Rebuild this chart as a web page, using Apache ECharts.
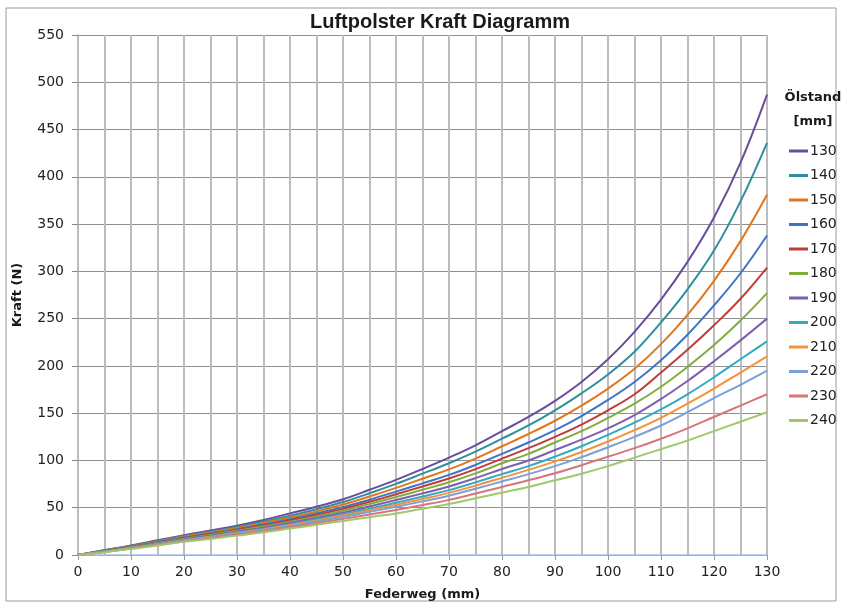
<!DOCTYPE html>
<html>
<head>
<meta charset="utf-8">
<script src="https://cdn.jsdelivr.net/npm/echarts@6/dist/echarts.min.js"></script>
<style>
  html, body { margin: 0; padding: 0; background: #fff; }
  #chart { width: 843px; height: 606px; }
</style>
</head>
<body>
<div id="chart"></div>
<script>
// Federweg (mm)
var federweg = [0, 5, 10, 15, 20, 25, 30, 35, 40, 45, 50, 55, 60, 65, 70, 75, 80, 85, 90, 95, 100, 105, 110, 115, 120, 125, 130];

// Kraft (N) pro Ölstand
var s130 = [0, 5, 10, 15.5, 21, 26, 31, 37, 44, 51, 59, 69, 79.5, 91, 103, 116, 131, 146, 163, 183, 207, 236, 270, 310, 357, 415, 487];
var s140 = [0, 5, 9.6, 14.8, 20.2, 24.9, 29.7, 35.4, 41.6, 48.4, 56.1, 65.3, 75.2, 86, 97, 109.3, 123, 137, 153, 171, 191, 215, 246, 281, 322, 374, 436];
var s150 = [0, 4.5, 9.1, 14.1, 19.3, 23.8, 28.5, 33.8, 39.6, 46.1, 53.4, 61.9, 71, 80.7, 90.5, 102, 115, 128, 142, 158, 176, 197, 223, 254, 290, 332, 381];
var s160 = [0, 4.3, 8.7, 13.5, 18.4, 22.7, 27.3, 32.2, 37.8, 44, 50.7, 58.6, 67, 75.8, 84.7, 95.3, 107, 119, 132, 147, 164, 183, 206, 233, 264, 298, 338];
var s170 = [0, 4.1, 8.4, 13, 17.9, 22, 26.4, 31.2, 36.5, 42.4, 48.8, 56.3, 64.2, 72.5, 80.9, 90.8, 102, 113, 125, 138, 153, 170, 193, 217, 243, 271, 304];
var s180 = [0, 3.9, 8.1, 12.6, 17.3, 21.2, 25.6, 30.1, 35.2, 40.8, 46.9, 53.9, 61.3, 69, 76.9, 86.3, 97, 107, 119, 131, 145, 160, 178, 199, 222, 248, 277];
var s190 = [0, 3.8, 7.8, 12.1, 16.7, 20.4, 24.7, 28.9, 33.8, 39.1, 44.8, 51.3, 58.1, 65.2, 72.5, 81.3, 91, 100, 111, 122, 134, 148, 165, 184, 205, 227, 250];
var s200 = [0, 3.6, 7.6, 11.6, 16.1, 19.7, 24, 27.9, 32.6, 37.7, 43, 49, 55.2, 61.8, 68.6, 76.8, 85.5, 94, 104, 115, 127, 140, 154, 170, 188, 207, 226];
var s210 = [0, 3.5, 7.3, 11.3, 15.7, 19.2, 23.3, 27.1, 31.7, 36.6, 41.7, 47.3, 53.1, 59.2, 65.7, 73.4, 81.6, 90, 99, 109, 120, 132, 145, 160, 176, 193, 210];
var s220 = [0, 3.4, 7.1, 11, 15.3, 18.6, 22.7, 26.3, 30.8, 35.4, 40.3, 45.6, 51, 56.7, 62.7, 70.1, 77.7, 85.5, 94, 103.5, 114, 125, 137, 151, 166, 180, 195];
var s230 = [0, 3.2, 6.8, 10.5, 14.6, 17.8, 21.7, 25.2, 29.4, 33.7, 38.2, 42.9, 47.7, 52.8, 58.3, 65, 72, 79, 86.5, 95, 104, 113, 123, 134, 146, 158, 170];
var s240 = [0, 3, 6.5, 10, 14, 17, 20.5, 24, 28, 32, 36, 40, 44, 49, 54, 60, 66, 72, 79, 86, 94, 103, 112, 121, 131, 141, 151];

var namen = ['130', '140', '150', '160', '170', '180', '190', '200', '210', '220', '230', '240'];
var werte = [s130, s140, s150, s160, s170, s180, s190, s200, s210, s220, s230, s240];
var farben = ['#6a4c9c', '#2f8f9d', '#e2761f', '#3f74c4', '#c03c3a', '#82ad3e',
              '#7e5fae', '#33a9c4', '#f4923a', '#7c9fd9', '#d8757a', '#9fc86a'];

var schrift = 'DejaVu Sans';

var series = [];
for (var i = 0; i < namen.length; i++) {
    var punkte = [];
    for (var j = 0; j < federweg.length; j++) {
        punkte.push([federweg[j], werte[i][j]]);
    }
    series.push({
        name: namen[i],
        type: 'line',
        smooth: 0.4,
        symbol: 'none',
        data: punkte,
        lineStyle: { width: 2, color: farben[i] },
        itemStyle: { color: farben[i] }
    });
}

var myChart = echarts.init(document.getElementById('chart'));
var option = {
    animation: false,
    color: farben,
    title: [{
        text: 'Luftpolster Kraft Diagramm',
        left: 435,
        top: 7,
        textAlign: 'center',
        textStyle: { fontFamily: 'Liberation Sans', fontSize: 20, fontWeight: 'bold', color: '#1a1a1a' }
    }, {
        text: 'Ölstand',
        left: 808,
        top: 86,
        textAlign: 'center',
        textStyle: { fontFamily: schrift, fontSize: 13, fontWeight: 'bold', color: '#1a1a1a' }
    }, {
        text: '[mm]',
        left: 808,
        top: 110,
        textAlign: 'center',
        textStyle: { fontFamily: schrift, fontSize: 13, fontWeight: 'bold', color: '#1a1a1a' }
    }],
    graphic: [{
        type: 'rect',
        shape: { x: 6, y: 8, width: 830, height: 593 },
        style: { fill: 'none', stroke: '#9a9a9a', lineWidth: 1 },
        silent: true
    }],
    legend: {
        orient: 'vertical',
        left: 784,
        top: 139,
        icon: 'rect',
        itemWidth: 19,
        itemHeight: 3,
        itemGap: 10.5,
        textStyle: { fontFamily: schrift, fontSize: 14, color: '#222', padding: [0, 0, 0, -3] },
        data: namen
    },
    grid: { left: 78, right: 76, top: 35, bottom: 50 },
    xAxis: {
        type: 'value',
        min: 0,
        max: 130,
        interval: 10,
        name: 'Federweg (mm)',
        nameLocation: 'middle',
        nameGap: 33,
        nameTextStyle: { fontFamily: schrift, fontSize: 13, fontWeight: 'bold', color: '#1a1a1a' },
        axisLine: { show: true, lineStyle: { color: '#a9c0e4', width: 1.5 } },
        axisTick: { show: true, length: 5, lineStyle: { color: '#999' } },
        axisLabel: { fontFamily: schrift, fontSize: 14, color: '#222', margin: 10 },
        splitLine: { show: true, lineStyle: { color: '#bcbcbc', width: 2 } },
        minorTick: { show: false, splitNumber: 2 },
        minorSplitLine: { show: true, lineStyle: { color: '#bcbcbc', width: 2 } }
    },
    yAxis: {
        type: 'value',
        min: 0,
        max: 550,
        interval: 50,
        name: 'Kraft (N)',
        nameLocation: 'middle',
        nameGap: 54,
        nameTextStyle: { fontFamily: schrift, fontSize: 13, fontWeight: 'bold', color: '#1a1a1a' },
        axisLine: { show: true, lineStyle: { color: '#bcbcbc', width: 2 } },
        axisTick: { show: true, length: 6, lineStyle: { color: '#888' } },
        axisLabel: { fontFamily: schrift, fontSize: 14, color: '#222', margin: 14 },
        splitLine: { show: true, lineStyle: { color: '#8f8f8f', width: 1 } }
    },
    series: series
};
myChart.setOption(option);
</script>
</body>
</html>
